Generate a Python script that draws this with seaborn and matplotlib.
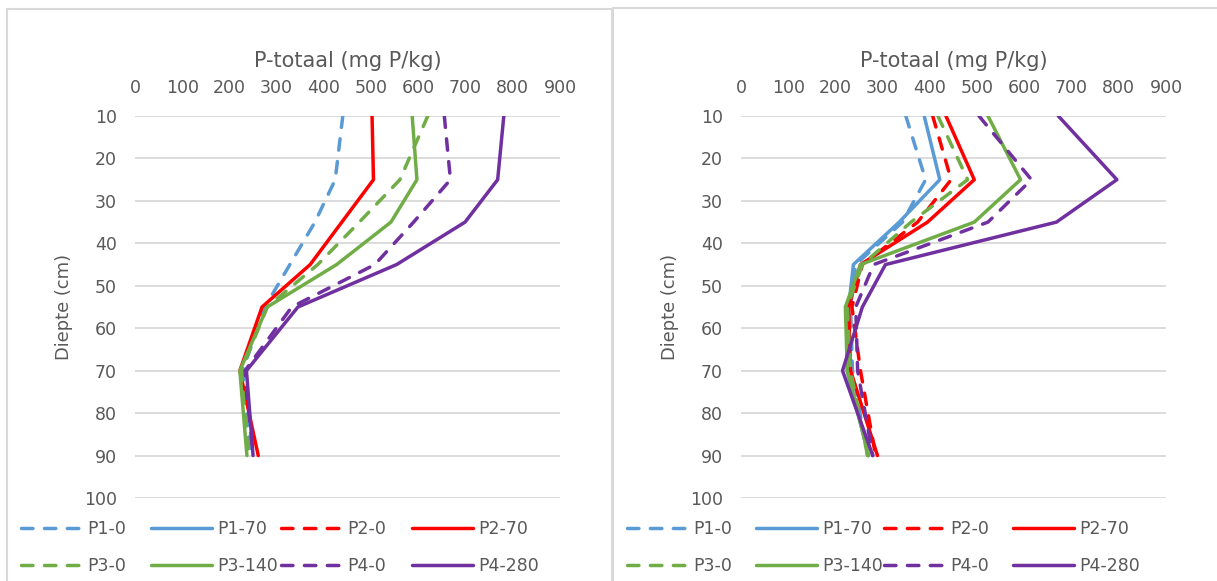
import matplotlib
matplotlib.use("Agg")
import matplotlib.pyplot as plt
import seaborn as sns
import numpy as np
from matplotlib.lines import Line2D
from matplotlib.patches import Rectangle

# ---------------- data ----------------
depth = [10, 25, 35, 45, 55, 70, 90]
series_names = ["P1-0", "P1-70", "P2-0", "P2-70", "P3-0", "P3-140", "P4-0", "P4-280"]

# left panel (P1-70 and P2-0 have no visible data)
left_P1_0 = [440, 424, 381, 328, 275, 228, 245]
left_P1_70 = None
left_P2_0 = None
left_P2_70 = [502, 505, 438, 371, 269, 222, 261]
left_P3_0 = [620, 561, 475, 387, 280, 225, 240]
left_P3_140 = [587, 597, 542, 427, 280, 222, 237]
left_P4_0 = [655, 668, 590, 508, 332, 233, 250]
left_P4_280 = [781, 768, 699, 554, 345, 236, 250]

# right panel
right_P1_0 = [349, 391, 342, 243, 232, 236, 268]
right_P1_70 = [388, 421, 335, 238, 228, 225, 270]
right_P2_0 = [406, 445, 374, 257, 235, 253, 285]
right_P2_70 = [434, 494, 395, 253, 228, 232, 289]
right_P3_0 = [417, 480, 360, 257, 225, 232, 268]
right_P3_140 = [523, 592, 494, 253, 221, 225, 270]
right_P4_0 = [504, 615, 523, 281, 243, 247, 279]
right_P4_280 = [672, 796, 668, 306, 257, 215, 279]

x_ticks = [0, 100, 200, 300, 400, 500, 600, 700, 800, 900]
y_ticks = [10, 20, 30, 40, 50, 60, 70, 80, 90, 100]
x_title = "P-totaal (mg P/kg)"
y_title = "Diepte (cm)"

left_data = [left_P1_0, left_P1_70, left_P2_0, left_P2_70,
             left_P3_0, left_P3_140, left_P4_0, left_P4_280]
right_data = [right_P1_0, right_P1_70, right_P2_0, right_P2_70,
              right_P3_0, right_P3_140, right_P4_0, right_P4_280]

# ---------------- style ----------------
colors = {"P1": "#5B9BD5", "P2": "#FF0000", "P3": "#70AD47", "P4": "#7030A0"}
TEXT = "#595959"
GRID = "#D9D9D9"
LW = 2.5
DASH = (0, (3.3, 3.3))
FS = 12.5

sns.set_theme(style="white")
plt.rcParams["font.family"] = ["DejaVu Sans"]

W, H = 1217, 581
fig = plt.figure(figsize=(W / 100, H / 100), dpi=100)

def fx(px):
    return px / W

def fy(py):
    return 1 - py / H

# panel frames
fig.add_artist(Rectangle((fx(7), -0.1), fx(612) - fx(7), fy(9) + 0.1,
                         transform=fig.transFigure, fill=False,
                         edgecolor=GRID, lw=1.5, zorder=0))
fig.add_artist(Rectangle((fx(613), -0.1), 1.2 - fx(613), fy(8) + 0.1,
                         transform=fig.transFigure, fill=False,
                         edgecolor=GRID, lw=1.5, zorder=0))

def style_for(name):
    dashed = name.endswith("-0")
    return colors[name[:2]], dashed

def draw_panel(ax, data):
    for name, vals in zip(series_names, data):
        if vals is None:
            continue
        col, dashed = style_for(name)
        kw = dict(color=col, lw=LW, solid_joinstyle="round",
                  dash_capstyle="round", solid_capstyle="round",
                  dash_joinstyle="round")
        if dashed:
            kw["linestyle"] = DASH
        sns.lineplot(x=vals, y=depth, sort=False, estimator=None, ax=ax,
                     legend=False, **kw)
    ax.set_xlim(0, 900)
    ax.set_ylim(100, 10)
    ax.set_xticks(x_ticks)
    ax.set_yticks(y_ticks)
    ax.xaxis.tick_top()
    ax.xaxis.set_label_position("top")
    ax.tick_params(axis="x", length=0, pad=14, labelsize=FS, labelcolor=TEXT)
    ax.tick_params(axis="y", length=0, pad=13, labelsize=FS, labelcolor=TEXT)
    ax.set_xlabel(x_title, fontsize=15, color=TEXT, labelpad=8)
    ax.set_ylabel(y_title, fontsize=12.9, color=TEXT, labelpad=8)
    ax.grid(axis="y", color=GRID, lw=1.3)
    ax.grid(axis="x", visible=False)
    for s in ax.spines.values():
        s.set_visible(False)
    ax.set_facecolor("none")

def draw_legend(fig, x_starts, y_center):
    cols = [["P1-0", "P3-0"], ["P1-70", "P3-140"],
            ["P2-0", "P4-0"], ["P2-70", "P4-280"]]
    for xs, names in zip(x_starts, cols):
        handles = []
        for n in names:
            col, dashed = style_for(n)
            h = Line2D([0], [1], color=col, lw=LW,
                       linestyle=DASH if dashed else "-",
                       dash_capstyle="round", solid_capstyle="round")
            handles.append(h)
        leg = fig.legend(handles, names, loc="center left",
                         bbox_to_anchor=(fx(xs), fy(y_center)),
                         bbox_transform=fig.transFigure,
                         frameon=False, fontsize=FS, ncol=1,
                         handlelength=3.5, handletextpad=0.3,
                         borderpad=0, borderaxespad=0, labelspacing=1.1)
        for t in leg.get_texts():
            t.set_color(TEXT)

axL = fig.add_axes([fx(135), fy(498), fx(560) - fx(135), fy(116) - fy(498)])
axR = fig.add_axes([fx(741), fy(498), fx(1166) - fx(741), fy(116) - fy(498)])
draw_panel(axL, left_data)
draw_panel(axR, right_data)

draw_legend(fig, [21, 151, 281, 412], 547.5)
draw_legend(fig, [627, 756, 884, 1013], 547.5)

fig.savefig("out.png", dpi=100, facecolor="white")
